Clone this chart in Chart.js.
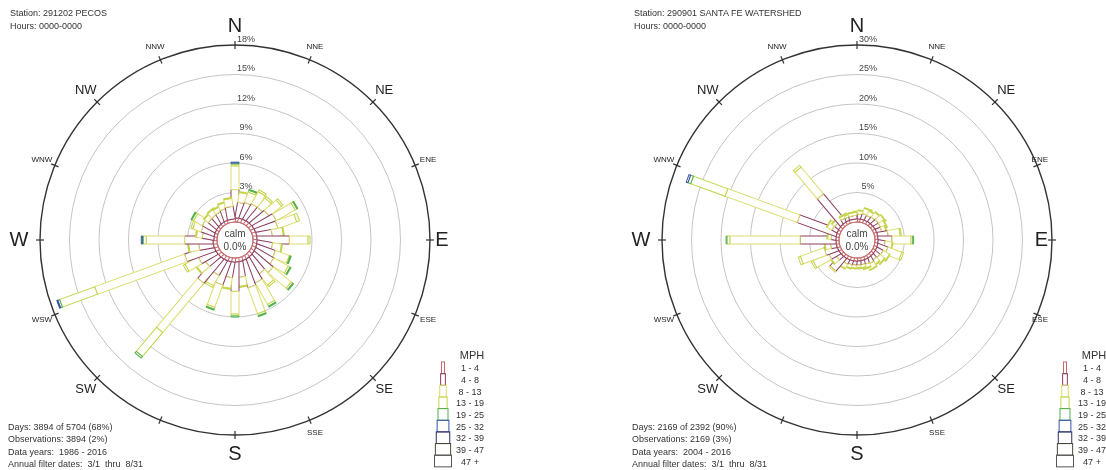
<!DOCTYPE html>
<html><head><meta charset="utf-8">
<script src="https://cdn.jsdelivr.net/npm/chart.js@4.4.1/dist/chart.umd.min.js"></script>
<style>
html,body{margin:0;padding:0;background:#fff;overflow:hidden;width:1106px;height:470px}
#wrap{position:relative;width:1106px;height:470px;overflow:hidden;background:#fff}
.cv{position:absolute;top:0;width:622px;height:470px}
.info{position:absolute;font-family:"Liberation Sans",Arial,sans-serif;font-size:9px;color:#333;white-space:nowrap}
.info div{height:12.4px;line-height:12.4px}
</style></head>
<body><div id="wrap">
<div class="cv" style="left:0"><canvas id="c1"></canvas></div>
<div class="cv" style="left:622px"><canvas id="c2"></canvas></div>
<div class="info" style="left:10px;top:7px"><div style="height:13px;line-height:13px">Station: 291202 PECOS</div><div style="height:13px;line-height:13px">Hours: 0000-0000</div></div>
<div class="info" style="left:634px;top:7px"><div style="height:13px;line-height:13px">Station: 290901 SANTA FE WATERSHED</div><div style="height:13px;line-height:13px">Hours: 0000-0000</div></div>
<div class="info" style="left:8px;top:421px"><div>Days: 3894 of 5704 (68%)</div><div>Observations: 3894 (2%)</div><div>Data years:&nbsp; 1986 - 2016</div><div>Annual filter dates:&nbsp; 3/1&nbsp; thru&nbsp; 8/31</div></div>
<div class="info" style="left:632px;top:421px"><div>Days: 2169 of 2392 (90%)</div><div>Observations: 2169 (3%)</div><div>Data years:&nbsp; 2004 - 2016</div><div>Annual filter dates:&nbsp; 3/1&nbsp; thru&nbsp; 8/31</div></div>
</div>
<script>
// ---- categories ----
const directions = [0,10,20,30,40,50,60,70,80,90,100,110,120,130,140,150,160,170,180,190,200,210,220,230,240,250,260,270,280,290,300,310,320,330,340,350];
const compassLabels = ['N','NNE','NE','ENE','E','ESE','SE','SSE','S','','SW','WSW','W','WNW','NW','NNW'];
const speedBins = ['1 - 4','4 - 8','8 - 13','13 - 19','19 - 25','25 - 32','32 - 39','39 - 47','47 +'];
const binColors = ['#c86a6a','#8a3c5e','#dcdc6c','#c4d44c','#4fb04f','#3550a8','#2c2c5c','#4a4a3a','#555555'];

// ---- PECOS (% frequency per direction and speed bin) ----
const pecosRings = [0,3,6,9,12,15,18];
const pecos_1_4   = [0.4,0.4,0.4,0.4,0.4,0.4,0.4,0.4,0.4,0.4,0.4,0.4,0.4,0.4,0.4,0.4,0.4,0.4,0.4,0.4,0.4,0.4,0.4,0.4,0.4,0.4,0.4,0.4,0.3,0.3,0.3,0.3,0.3,0.3,0.3,0.3];
const pecos_4_8   = [2.9,1.6,1.7,1.8,1.8,2.0,2.4,2.3,1.6,3.3,1.6,2.0,2.1,2.5,2.0,2.6,2.8,1.6,3.0,1.6,2.5,1.7,3.2,1.5,1.9,3.1,1.5,2.9,1.2,1.4,1.5,1.1,1.1,1.1,1.2,1.3];
const pecos_8_13  = [2.4,1.0,1.1,1.4,1.2,1.6,2.2,2.0,1.1,1.9,0.9,1.5,1.7,2.4,1.4,2.5,2.8,0.9,2.3,1.1,2.4,1.2,6.5,1.0,1.5,9.7,1.0,3.9,0.6,0.9,1.0,0.5,0.6,0.5,0.6,0.8];
const pecos_13_19 = [0.2,0.1,0.2,0.2,0.2,0.2,0.2,0.3,0.1,0.2,0.1,0.1,0.2,0.2,0.2,0.2,0.2,0.1,0.2,0.1,0.2,0.2,3.2,0.1,0.2,3.8,0.1,0.3,0.1,0.2,0.2,0.1,0.1,0.1,0.1,0.1];
const pecos_19_25 = [0.1,0,0.1,0,0,0,0.1,0,0,0,0,0.1,0.1,0.1,0,0.1,0.1,0,0.1,0,0.1,0,0.2,0,0,0.2,0,0.1,0,0,0.1,0,0,0,0,0];
const pecos_25_32 = [0.05,0,0,0,0,0,0,0,0,0,0,0,0,0,0,0,0,0,0,0,0,0,0,0,0,0.1,0,0.1,0,0,0,0,0,0,0,0];

// ---- SANTA FE WATERSHED ----
const santaRings = [0,5,10,15,20,25,30];
const santa_1_4   = [0.5,0.5,0.5,0.5,0.5,0.5,0.5,0.5,0.5,0.5,0.5,0.5,0.5,0.5,0.5,0.5,0.5,0.5,0.5,0.5,0.5,0.5,0.5,0.5,0.5,0.5,0.5,0.5,0.5,0.5,0.5,0.5,0.5,0.5,0.5,0.5];
const santa_4_8   = [0.7,0.8,1.0,0.9,1.0,1.1,1.0,0.9,1.8,2.4,1.2,1.8,1.2,1.0,0.8,1.0,0.8,0.7,0.7,0.7,0.7,0.8,2.8,0.9,1.8,2.2,1.0,6.1,0.8,7.0,1.0,0.8,6.1,0.7,0.6,0.6];
const santa_8_13  = [0.5,0.6,0.9,0.8,1.0,1.1,0.9,0.7,2.0,3.2,1.2,2.5,1.2,1.0,0.8,0.9,0.6,0.5,0.4,0.5,0.6,0.8,0.2,1.0,2.9,4.2,0.9,11.9,0.6,13.0,0.9,0.6,5.9,0.5,0.4,0.5];
const santa_13_19 = [0.1,0.1,0.1,0.1,0.1,0.1,0.1,0.1,0.2,0.3,0.1,0.3,0.1,0.1,0.1,0.1,0.1,0.1,0.1,0.1,0.1,0.1,0,0.1,0.3,0.4,0.1,0.5,0.1,6.2,0.1,0.1,0.4,0.1,0.1,0.1];
const santa_19_25 = [0,0,0,0,0,0,0,0,0,0.05,0,0,0,0,0,0,0,0,0,0,0,0,0,0,0,0,0,0.1,0,0.5,0,0,0,0,0,0];
const santa_25_32 = [0,0,0,0,0,0,0,0,0,0,0,0,0,0,0,0,0,0,0,0,0,0,0,0,0,0,0,0,0,0.3,0,0,0,0,0,0];

const FONT = '"Liberation Sans", Arial, sans-serif';

function rosePlugin(labelMaxRight) {
  return {
    id: 'rose',
    afterDatasetsDraw(chart) {
      const ctx = chart.ctx, sc = chart.scales.r;
      const cx = sc.xCenter, cy = sc.yCenter, R = sc.drawingArea;
      const n = chart.data.labels.length;
      const hw = 4;
      // bars
      for (let i = 0; i < n; i++) {
        const ang = sc.getIndexAngle(i) - Math.PI / 2;
        let cum = 0;
        ctx.save();
        ctx.translate(cx, cy);
        ctx.rotate(ang);
        chart.data.datasets.forEach(ds => {
          const v = ds.data[i];
          if (!v) return;
          const r0 = sc.getDistanceFromCenterForValue(cum);
          cum += v;
          const r1 = sc.getDistanceFromCenterForValue(cum);
          ctx.beginPath();
          ctx.rect(r0, -hw, Math.max(r1 - r0, 0.8), 2 * hw);
          ctx.fillStyle = '#fff';
          ctx.fill();
          ctx.strokeStyle = ds.binColor;
          ctx.lineWidth = 1;
          ctx.stroke();
        });
        ctx.restore();
      }
      // outer ring ticks
      ctx.save();
      ctx.strokeStyle = '#333';
      ctx.lineWidth = 1.2;
      for (let k = 0; k < 16; k++) {
        const a = k * Math.PI / 8;
        const s = Math.sin(a), c = Math.cos(a);
        ctx.beginPath();
        ctx.moveTo(cx + (R - 4) * s, cy - (R - 4) * c);
        ctx.lineTo(cx + (R + 4) * s, cy - (R + 4) * c);
        ctx.stroke();
      }
      ctx.restore();
      // ring labels
      ctx.save();
      ctx.fillStyle = '#444';
      ctx.font = '9px ' + FONT;
      ctx.textAlign = 'center';
      ctx.textBaseline = 'bottom';
      sc.ticks.forEach(t => {
        if (t.value <= 0) return;
        const d = sc.getDistanceFromCenterForValue(t.value);
        ctx.fillText(t.value + '%', cx + 11, cy - d - 1);
      });
      // calm text
      ctx.font = '10px ' + FONT;
      ctx.textBaseline = 'middle';
      ctx.fillText('calm', cx, cy - 6);
      ctx.fillText('0.0%', cx, cy + 7);
      // compass labels
      ctx.fillStyle = '#222';
      compassLabels.forEach((lab, k) => {
        if (!lab) return;
        const a = k * Math.PI / 8;
        let size, d;
        if (k % 4 === 0) { size = 20; d = (k === 4) ? 207 : (k === 12 ? 216 : 214); }
        else if (k % 2 === 0) { size = 13; d = 211; }
        else { size = 8; d = 209; }
        ctx.font = size + 'px ' + FONT;
        let x = cx + d * Math.sin(a);
        const w = ctx.measureText(lab).width;
        if (x + w / 2 > labelMaxRight) x = labelMaxRight - w / 2;
        ctx.fillText(lab, x, cy - d * Math.cos(a));
      });
      // legend
      const lx = 443, top = 362, rh = 11.65;
      ctx.font = '11px ' + FONT;
      ctx.fillStyle = '#333';
      ctx.fillText('MPH', 472, 356);
      ctx.font = '9px ' + FONT;
      speedBins.forEach((lab, i) => {
        const w = 3 + i * 1.75;
        ctx.strokeStyle = binColors[i];
        ctx.lineWidth = 1;
        ctx.strokeRect(lx - w / 2, top + i * rh, w, rh);
        ctx.fillStyle = '#333';
        ctx.fillText(lab, 470, top + i * rh + rh / 2 + 1);
      });
      ctx.restore();
    }
  };
}

function makeRose(id, bins, rings, minV, maxV, labelMaxRight) {
  new Chart(document.getElementById(id), {
    type: 'radar',
    data: {
      labels: directions,
      datasets: bins.map((arr, i) => ({
        label: speedBins[i], data: arr, binColor: binColors[i],
        showLine: false, pointRadius: 0, pointHoverRadius: 0, borderWidth: 0,
        backgroundColor: 'rgba(0,0,0,0)'
      }))
    },
    options: {
      responsive: true, maintainAspectRatio: false, animation: false,
      layout: { padding: { left: 40, right: 192, top: 45, bottom: 35 } },
      plugins: { legend: { display: false }, tooltip: { enabled: false } },
      scales: {
        r: {
          min: minV, max: maxV, startAngle: 0,
          angleLines: { display: false },
          pointLabels: { display: false },
          ticks: { display: false },
          grid: {
            circular: true,
            color: c => c.index === rings.length - 1 ? '#333' : '#c4c4c4',
            lineWidth: c => c.index === rings.length - 1 ? 1.4 : 1
          },
          afterBuildTicks: s => { s.ticks = rings.map(v => ({ value: v })); }
        }
      }
    },
    plugins: [rosePlugin(labelMaxRight)]
  });
}

makeRose('c1', [pecos_1_4, pecos_4_8, pecos_8_13, pecos_13_19, pecos_19_25, pecos_25_32], pecosRings, -1.83, 18, 460);
makeRose('c2', [santa_1_4, santa_4_8, santa_8_13, santa_13_19, santa_19_25, santa_25_32], santaRings, -3.05, 30, 426);
</script>
</body></html>
